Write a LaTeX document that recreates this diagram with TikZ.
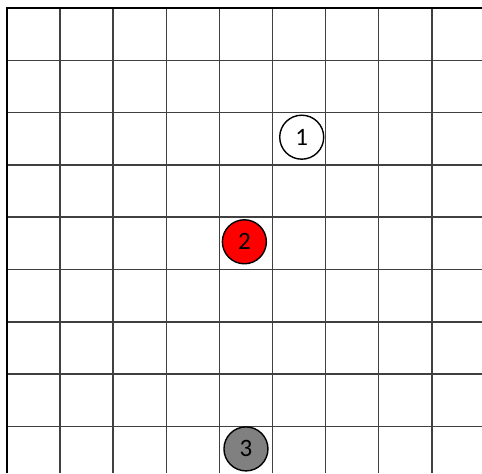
\documentclass[tikz,border=0pt]{standalone}
\usepackage{fontspec}
\setmainfont{Carlito}
\usepackage{tikz}

\begin{document}
\begin{tikzpicture}[
    x=53.1pt, y=-52.3pt,
    gridline/.style = {draw=black!75, line width=1.5pt},
    border/.style   = {draw=black, line width=2.6pt},
    marker/.style   = {circle, draw=black, line width=1.4pt,
                       minimum size=44pt, inner sep=0pt,
                       font=\fontsize{25}{25}\selectfont},
  ]
  \useasboundingbox (-0.132,-0.153) rectangle (8.945,8.891);
  % grid
  \foreach \i in {1,...,8}{
    \draw[gridline] (\i,0) -- (\i,8.891);
    \draw[gridline] (0,\i) -- (8.945,\i);
  }
  % outer edges, top and left only
  \draw[border] (0,8.891) -- (0,0) -- (8.945,0);
  % numbered markers
  \node[marker, fill=white]    (m1) at (5.55,2.47) {1};
  \node[marker, fill=red]      (m2) at (4.47,4.47) {2};
  \node[marker, fill=black!50] (m3) at (4.5,8.43) {3};
\end{tikzpicture}
\end{document}
